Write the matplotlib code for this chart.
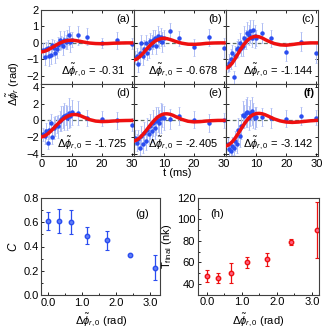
import numpy as np
import matplotlib
matplotlib.use('Agg')
import matplotlib.pyplot as plt
from matplotlib.ticker import MultipleLocator

plt.rcParams['font.family'] = ['Liberation Sans', 'DejaVu Sans']
plt.rcParams['mathtext.fontset'] = 'custom'
plt.rcParams['mathtext.rm'] = 'Liberation Sans'
plt.rcParams['mathtext.it'] = 'Liberation Sans:italic'

# measured phase vs time, one list per panel (shared time grid)
t_data = [0.5, 1.0, 1.5, 2.0, 2.5, 3.0, 3.5, 4.0, 4.5, 5.0, 5.5, 6.0, 6.5, 7.0,
          7.5, 8.0, 8.5, 9.0, 9.5, 10.0, 12, 15, 20, 25, 30]

vals_a = [-0.45, -0.85, -0.35, -0.3, -0.8, -0.75, -0.15, -0.3, -0.6, -0.4, -0.1, 0.15, 0.0,
          -0.2, 0.2, 0.05, 0.2, 0.45, 0.05, 0.2, 0.45, 0.38, 0.0, 0.15, -0.05]
err_a = [0.45, 0.5, 0.4, 0.5, 0.6, 0.55, 0.4, 0.5, 0.6, 0.5, 0.45, 0.6, 0.4, 0.55, 0.5,
         0.45, 0.6, 0.55, 0.6, 0.45, 0.55, 0.5, 0.3, 0.5, 0.35]
vals_b = [-0.9, -0.8, -1.3, -0.6, 0.0, -0.77, -0.4, 0.0, -0.6, -0.3, 0.1, -0.1, 0.2, 0.3,
          -0.2, 0.4, 0.2, 0.35, 0.06, 0.3, 0.7, 0.28, -0.27, 0.34, -0.3]
err_b = [0.4, 0.5, 0.45, 0.6, 0.5, 0.55, 0.6, 0.5, 0.45, 0.6, 0.5, 0.55, 0.6, 0.5, 0.45,
         0.6, 0.5, 0.55, 0.6, 0.5, 0.5, 0.45, 0.5, 0.5, 0.6]
vals_c = [-1.4, -1.2, -1.0, -0.6, -2.1, -0.8, -0.4, -0.3, 0.0, -0.3, -0.2, 0.3, 0.2, 0.6,
          0.5, 0.7, 0.3, 0.8, 0.4, 0.3, 0.6, 0.28, -0.57, 0.08, -0.6]
err_c = [0.4, 0.5, 0.6, 0.5, 0.4, 0.6, 0.5, 0.55, 0.6, 0.5, 0.6, 0.7, 0.6, 0.65, 0.6,
         0.7, 0.55, 0.6, 0.7, 0.5, 0.6, 0.5, 0.55, 0.6, 0.6]
vals_d = [-1.7, -1.9, -1.3, -2.7, -1.1, -0.3, -2.0, -0.9, -0.7, -0.5, -0.7, -0.1, 0.2,
          0.4, 0.5, 0.7, 0.3, 0.9, 0.5, 1.0, 0.9, 0.3, 0.2, 0.0, -0.5]
err_d = [0.8, 0.9, 1.0, 0.8, 1.2, 1.1, 0.9, 1.3, 1.2, 1.0, 1.4, 1.2, 1.5, 1.3, 1.6,
         1.2, 1.4, 1.8, 1.3, 1.5, 1.4, 1.0, 0.9, 1.0, 0.8]
vals_e = [-2.1, -2.7, -2.3, -3.3, -1.9, -2.9, -1.5, -2.5, -1.1, -1.7, -0.7, -1.3, -0.3,
          -0.9, -0.1, 0.1, -0.3, 0.3, 0.6, 0.3, 0.2, 0.5, 0.1, -0.3, 0.0]
err_e = [0.9, 1.0, 1.1, 0.9, 1.2, 1.0, 1.3, 1.1, 1.4, 1.2, 1.5, 1.3, 1.6, 1.4, 1.7,
         1.5, 1.6, 1.8, 1.4, 1.5, 1.2, 1.1, 1.0, 1.1, 0.9]
vals_f = [-2.9, -3.5, -3.7, -3.1, -3.3, -2.5, -2.9, -1.1, -1.9, -0.7, 0.7, 0.5, 0.9, 1.0,
          0.3, 0.9, 1.1, 0.6, 0.3, 0.4, 0.4, 0.3, 0.2, 0.5, 0.3]
err_f = [0.8, 0.9, 1.0, 1.1, 0.9, 1.2, 1.0, 1.4, 1.3, 1.5, 1.6, 1.4, 1.7, 1.8, 1.5,
         1.6, 1.7, 1.5, 1.3, 1.2, 1.1, 1.2, 1.0, 1.1, 0.9]

# fitted curves
t_fit = [0, 1, 2, 3, 4, 5, 6, 7, 8, 9, 10, 11, 12, 13, 14, 16, 18, 20, 22, 24, 26, 28, 30]
fit_a = [-0.55, -0.51, -0.44, -0.34, -0.23, -0.12, -0.02, 0.06, 0.12, 0.15, 0.16, 0.15,
         0.12, 0.09, 0.05, -0.01, -0.04, -0.05, -0.04, -0.02, -0.01, 0.0, 0.0]
fit_b = [-1.05, -0.98, -0.84, -0.65, -0.44, -0.23, -0.05, 0.10, 0.20, 0.26, 0.28, 0.26,
         0.21, 0.15, 0.08, -0.02, -0.08, -0.09, -0.07, -0.03, -0.01, 0.0, 0.0]
fit_c = [-1.55, -1.44, -1.24, -0.96, -0.65, -0.34, -0.08, 0.14, 0.29, 0.37, 0.40, 0.37,
         0.30, 0.20, 0.11, -0.04, -0.12, -0.14, -0.10, -0.05, -0.02, 0.0, 0.0]
fit_d = [-2.0, -1.88, -1.65, -1.33, -0.96, -0.58, -0.22, 0.10, 0.36, 0.56, 0.68, 0.72,
         0.68, 0.56, 0.40, 0.10, -0.08, -0.14, -0.12, -0.07, -0.03, -0.01, 0.0]
fit_e = [-2.5, -2.36, -2.1, -1.72, -1.28, -0.8, -0.33, 0.08, 0.42, 0.65, 0.78, 0.80,
         0.75, 0.62, 0.45, 0.12, -0.1, -0.18, -0.15, -0.08, -0.03, 0.0, 0.0]
fit_f = [-3.1, -2.92, -2.6, -2.15, -1.6, -1.02, -0.45, 0.05, 0.45, 0.7, 0.83, 0.85,
         0.80, 0.68, 0.52, 0.18, -0.06, -0.2, -0.24, -0.2, -0.12, -0.05, 0.0]

phi0_labels = ['-0.31', '-0.678', '-1.144', '-1.725', '-2.405', '-3.142']
panel_labels = ['(a)', '(b)', '(c)', '(d)', '(e)', '(f)']

# summary panels
phi0 = [0.0, 0.31, 0.678, 1.144, 1.725, 2.405, 3.142]
contrast = [0.61, 0.61, 0.60, 0.49, 0.45, 0.33, 0.225]
contrast_err = [0.077, 0.10, 0.10, 0.072, 0.078, 0.01, 0.105]
t_final = [47, 45.5, 50, 60, 63, 78.5, 90]
t_final_err = [5.4, 4.6, 9, 5.3, 6, 2.8, 26]

vals = [vals_a, vals_b, vals_c, vals_d, vals_e, vals_f]
errs = [err_a, err_b, err_c, err_d, err_e, err_f]
fits = [fit_a, fit_b, fit_c, fit_d, fit_e, fit_f]
text_x = [0.90, 0.91, 0.94, 0.92, 0.915, 0.94]

fig = plt.figure(figsize=(3.26, 3.36), dpi=100)

left, width = 41.5 / 326, 92.3 / 326
rows = [(1 - 84 / 336, 74 / 336), (1 - 156 / 336, 72 / 336)]
blue = '#2a4df0'
ebar = '#aebcf4'
red = '#ee1010'
fs = 8

for i in range(6):
    r, c = divmod(i, 3)
    ax = fig.add_axes([left + c * width, rows[r][0], width, rows[r][1]])
    ax.axhline(0, color='#5f7068', ls='--', lw=0.9, dashes=(3, 2), zorder=1)
    ax.errorbar(t_data, vals[i], yerr=errs[i], fmt='o', ms=2.2, color=blue,
                ecolor=ebar, elinewidth=0.7, capsize=1.0, capthick=0.5, zorder=2)
    ax.plot(t_fit, fits[i], color=red, lw=2.5, zorder=3)
    ax.set_xlim(0, 30.7)
    if r == 0:
        ax.set_ylim(-2.5, 2.0)
        ax.set_yticks([-2, -1, 0, 1, 2])
        ax.set_xticks([0, 10, 20, 30])
        ax.set_xticklabels([])
    else:
        ax.set_ylim(-4.3, 4.4)
        ax.set_yticks([-4, -2, 0, 2, 4])
        ax.set_xticks([0, 10, 20, 30] if c == 0 else [10, 20, 30])
    if c > 0:
        ax.set_yticklabels([])
    ax.tick_params(direction='in', top=True, right=True, labelsize=fs, length=2.5,
                   width=0.6, pad=2)
    for s in ax.spines.values():
        s.set_linewidth(0.8)
        s.set_color('#404040')
    ax.text(0.955, 0.88, panel_labels[i], transform=ax.transAxes, ha='right', va='center',
            fontsize=fs, fontweight='bold' if i == 5 else 'normal')
    ax.text(text_x[i], 0.18, r'$\Delta\tilde{\phi}_{r,0}$ = ' + phi0_labels[i],
            transform=ax.transAxes, ha='right', va='center', fontsize=fs)

fig.text(13 / 326, 1 - 84 / 336, r'$\Delta\tilde{\phi}_r$ (rad)', rotation=90,
         ha='center', va='center', fontsize=fs)
fig.text(177 / 326, 1 - 173 / 336, 't (ms)', ha='center', va='center', fontsize=fs)

# (g) contrast
axg = fig.add_axes([41.5 / 326, 1 - 295 / 336, 118.5 / 326, 97 / 336])
axg.errorbar(phi0, contrast, yerr=contrast_err, fmt='o', ms=3.2, color=blue,
             mfc='#5f7cf5', mec=blue, ecolor=blue, elinewidth=0.9, capsize=1.5, capthick=0.8)
axg.set_xlim(-0.2, 3.3)
axg.set_ylim(0, 0.8)
axg.set_xticks([0, 1, 2, 3])
axg.set_xticklabels(['0.0', '1.0', '2.0', '3.0'])
axg.set_yticks([0, 0.2, 0.4, 0.6, 0.8])
axg.set_yticklabels(['0.0', '0.2', '0.4', '0.6', '0.8'])
axg.xaxis.set_minor_locator(MultipleLocator(0.5))
axg.yaxis.set_minor_locator(MultipleLocator(0.1))
axg.set_ylabel('C', fontsize=fs + 0.5, style='italic', labelpad=3)
axg.set_xlabel(r'$\Delta\tilde{\phi}_{r,0}$ (rad)', fontsize=fs, labelpad=3)
axg.text(0.91, 0.835, '(g)', transform=axg.transAxes, ha='right', va='center', fontsize=fs)

# (h) final temperature
axh = fig.add_axes([198 / 326, 1 - 294.5 / 336, 121 / 326, 96.5 / 336])
axh.errorbar(phi0, t_final, yerr=t_final_err, fmt='o', ms=3.2, color=red,
             mfc='#ff6080', mec=red, ecolor=red, elinewidth=0.9, capsize=1.5, capthick=0.8)
axh.set_xlim(-0.25, 3.2)
axh.set_ylim(30, 120)
axh.set_xticks([0, 1, 2, 3])
axh.set_xticklabels(['0.0', '1.0', '2.0', '3.0'])
axh.set_yticks([40, 60, 80, 100, 120])
axh.xaxis.set_minor_locator(MultipleLocator(0.5))
axh.yaxis.set_minor_locator(MultipleLocator(10))
axh.set_ylabel(r'T$_{\rm final}$ (nk)', fontsize=fs, labelpad=2)
axh.set_xlabel(r'$\Delta\tilde{\phi}_{r,0}$ (rad)', fontsize=fs, labelpad=3)
axh.text(0.1, 0.835, '(h)', transform=axh.transAxes, ha='left', va='center', fontsize=fs)

for ax in (axg, axh):
    ax.tick_params(which='both', direction='in', labelsize=fs, width=0.6, pad=2)
    ax.tick_params(which='major', length=2.5)
    ax.tick_params(which='minor', length=1.5)
    for s in ax.spines.values():
        s.set_linewidth(0.8)
        s.set_color('#404040')

fig.savefig('out.png', dpi=100)
